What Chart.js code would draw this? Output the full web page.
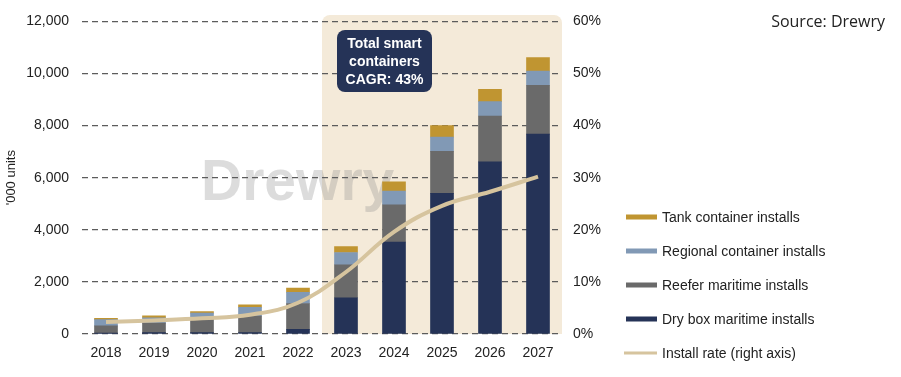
<!DOCTYPE html>
<html>
<head>
<meta charset="utf-8">
<script src="https://cdn.jsdelivr.net/npm/chart.js@4.4.1/dist/chart.umd.min.js"></script>
<style>
  html, body { margin: 0; padding: 0; background: #fff; }
  #chart { display: block; width: 901px; height: 377px; }
</style>
</head>
<body>
<canvas id="chart" width="901" height="377"></canvas>
<script>
// data ('000 units, install rate in %)
const years = ['2018', '2019', '2020', '2021', '2022', '2023', '2024', '2025', '2026', '2027'];
const dryBox = [40, 50, 50, 50, 180, 1390, 3530, 5400, 6610, 7670];
const reefer = [270, 370, 500, 640, 990, 1270, 1430, 1610, 1760, 1880];
const regional = [240, 200, 250, 330, 430, 470, 530, 550, 550, 540];
const tank = [50, 80, 60, 100, 160, 225, 350, 440, 470, 520];
const installRate = [2.3, 2.6, 3.0, 3.7, 6.0, 11.9, 19.6, 24.6, 27.3, 30.2];
const leftTicks = [0, 2000, 4000, 6000, 8000, 10000, 12000];
const rightTicks = [0, 10, 20, 30, 40, 50, 60];

const FONT = '"Liberation Sans", Arial, sans-serif';
const NAVY = '#253357';
const REEFER = '#6a6a6a';
const REGIONAL = '#8199b5';
const TANK = '#c09531';
const LINE = '#d6c49e';

// beige forecast band + watermark, under the grid
const backdrop = {
    id: 'backdrop',
    beforeDraw(chart) {
        const ctx = chart.ctx;
        const x = chart.scales.x;
        const area = chart.chartArea;
        const left = x.getPixelForValue(4.5);
        const right = area.right;
        const top = 15;
        ctx.save();
        ctx.fillStyle = '#f4ead9';
        ctx.beginPath();
        ctx.roundRect(left, top, right - left, area.bottom - top, [8, 8, 0, 0]);
        ctx.fill();

        ctx.fillStyle = 'rgba(140,140,140,0.3)';
        ctx.font = 'bold 57px ' + FONT;
        ctx.textBaseline = 'alphabetic';
        ctx.textAlign = 'left';
        ctx.fillText('Drewry', 201, 200);
        ctx.restore();
    }
};

// callout box, legend and source text
const extras = {
    id: 'extras',
    afterDraw(chart) {
        const ctx = chart.ctx;
        ctx.save();
        ctx.fillStyle = NAVY;
        ctx.beginPath();
        ctx.roundRect(337, 30, 95, 62, 8);
        ctx.fill();
        ctx.fillStyle = '#fff';
        ctx.font = 'bold 14px ' + FONT;
        ctx.textAlign = 'center';
        ctx.textBaseline = 'middle';
        ctx.fillText('Total smart', 384.5, 44);
        ctx.fillText('containers', 384.5, 62);
        ctx.fillText('CAGR: 43%', 384.5, 80);

        const items = [
            { label: 'Tank container installs', color: TANK, h: 5 },
            { label: 'Regional container installs', color: REGIONAL, h: 5 },
            { label: 'Reefer maritime installs', color: REEFER, h: 5 },
            { label: 'Dry box maritime installs', color: NAVY, h: 5 },
            { label: 'Install rate (right axis)', color: LINE, h: 3 }
        ];
        ctx.textAlign = 'left';
        ctx.font = '14px ' + FONT;
        items.forEach((it, i) => {
            const cy = 217 + i * 34;
            ctx.fillStyle = it.color;
            ctx.fillRect(i === 4 ? 624 : 626, cy - it.h / 2, i === 4 ? 33 : 31, it.h);
            ctx.fillStyle = '#222';
            ctx.fillText(it.label, 662, cy + 1);
        });

        ctx.font = '16px "Open Sans", sans-serif';
        ctx.textAlign = 'right';
        ctx.fillStyle = '#222';
        ctx.fillText('Source: Drewry', 885, 22);
        ctx.restore();
    }
};

const barSet = (label, data, color) => ({
    type: 'bar',
    label: label,
    data: data,
    backgroundColor: color,
    barThickness: 23,
    stack: 'units',
    yAxisID: 'y',
    order: 1
});

const ctx = document.getElementById('chart').getContext('2d');
const chart = new Chart(ctx, {
    data: {
        labels: years,
        datasets: [
            {
                type: 'line',
                label: 'Install rate (right axis)',
                data: installRate,
                borderColor: LINE,
                borderWidth: 4,
                pointRadius: 0,
                tension: 0.4,
                yAxisID: 'y1',
                order: 0
            },
            barSet('Dry box maritime installs', dryBox, NAVY),
            barSet('Reefer maritime installs', reefer, REEFER),
            barSet('Regional container installs', regional, REGIONAL),
            barSet('Tank container installs', tank, TANK)
        ]
    },
    options: {
        responsive: false,
        animation: false,
        devicePixelRatio: 1,
        layout: { padding: { top: 12, right: 0, left: 0, bottom: 0 } },
        plugins: {
            legend: { display: false },
            tooltip: { enabled: false }
        },
        scales: {
            x: {
                stacked: true,
                grid: { display: false, drawTicks: false },
                border: { display: false },
                ticks: { color: '#222', font: { family: FONT, size: 14 }, padding: 11, maxRotation: 0, autoSkip: false },
                afterFit: (s) => { s.height = 43; }
            },
            y: {
                stacked: true,
                min: 0,
                max: 12000,
                afterBuildTicks: (s) => { s.ticks = leftTicks.map(v => ({ value: v })); },
                grid: { color: '#5c5c5c', lineWidth: 1.3, drawTicks: false },
                border: { display: false, dash: [6, 4] },
                ticks: {
                    color: '#222',
                    font: { family: FONT, size: 14 },
                    padding: 13,
                    callback: (v) => v.toLocaleString('en-US')
                },
                title: {
                    display: true,
                    text: "'000 units",
                    color: '#222',
                    font: { family: FONT, size: 13 },
                    padding: { top: 4, bottom: 0 }
                },
                afterFit: (s) => { s.width = 82; }
            },
            y1: {
                position: 'right',
                min: 0,
                max: 60,
                afterBuildTicks: (s) => { s.ticks = rightTicks.map(v => ({ value: v })); },
                grid: { display: false, drawTicks: false },
                border: { display: false },
                ticks: {
                    color: '#222',
                    font: { family: FONT, size: 14 },
                    padding: 11,
                    callback: (v) => v + '%'
                },
                afterFit: (s) => { s.width = 339; }
            }
        }
    },
    plugins: [backdrop, extras]
});
</script>
</body>
</html>
